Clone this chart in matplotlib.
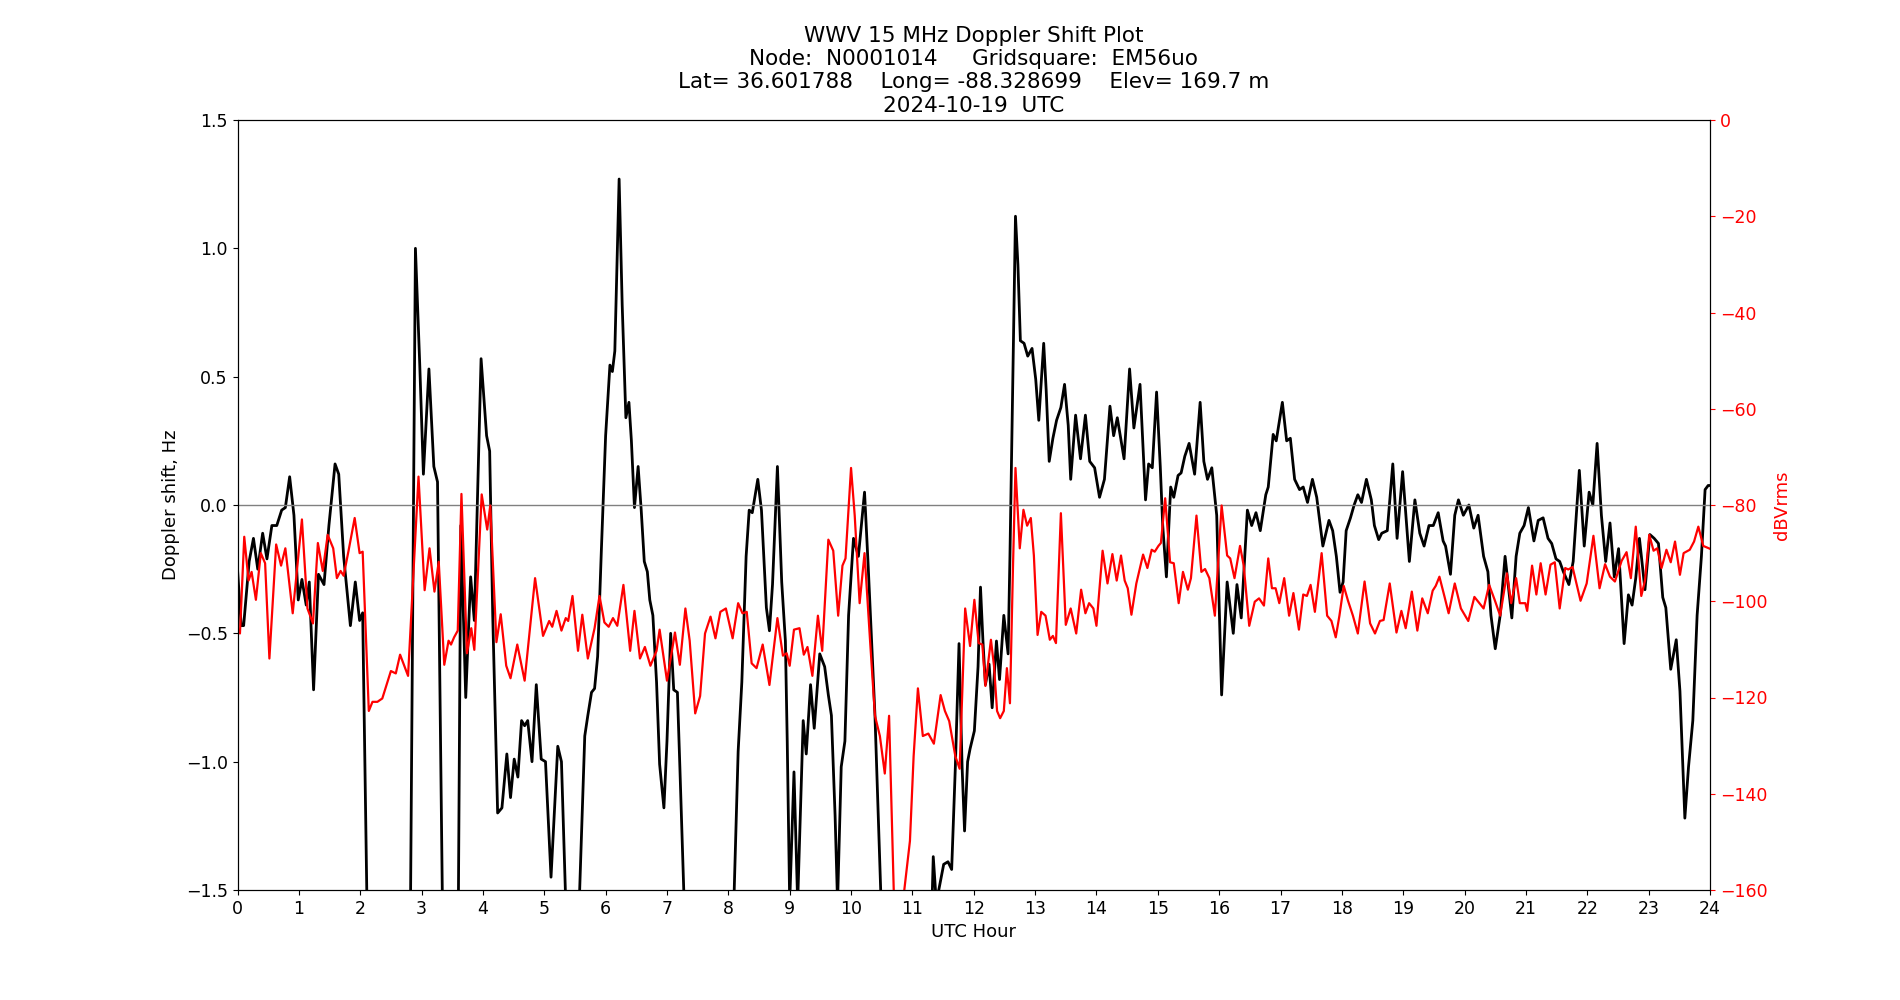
import matplotlib
matplotlib.use("Agg")
from matplotlib import pyplot as plt

# Doppler shift (Hz) vs UTC hour
hours_doppler = [
    0.00, 0.06, 0.10, 0.19, 0.26, 0.33, 0.41, 0.48, 0.56, 0.64, 0.72, 0.78, 0.85, 0.92, 0.99,
    1.05, 1.12, 1.17, 1.24, 1.32, 1.41, 1.49, 1.59, 1.65, 1.73, 1.84, 1.92, 1.99, 2.04, 2.11,
    2.50, 2.82, 2.90, 2.97, 3.03, 3.12, 3.20, 3.26, 3.34, 3.47, 3.60, 3.64, 3.72, 3.80, 3.86,
    3.97, 4.06, 4.11, 4.16, 4.24, 4.31, 4.39, 4.45, 4.51, 4.57, 4.63, 4.68, 4.73, 4.80, 4.87,
    4.95, 5.02, 5.11, 5.22, 5.28, 5.35, 5.46, 5.57, 5.66, 5.71, 5.77, 5.82, 5.87, 5.93, 6.00,
    6.07, 6.11, 6.15, 6.22, 6.27, 6.33, 6.38, 6.42, 6.47, 6.53, 6.58, 6.63, 6.68, 6.72, 6.77,
    6.83, 6.88, 6.95, 7.00, 7.06, 7.11, 7.17, 7.21, 7.28, 7.70, 8.09, 8.16, 8.22, 8.29, 8.34,
    8.39, 8.48, 8.54, 8.62, 8.67, 8.72, 8.80, 8.87, 8.93, 8.96, 9.00, 9.07, 9.13, 9.22, 9.27,
    9.34, 9.40, 9.49, 9.57, 9.63, 9.68, 9.74, 9.78, 9.84, 9.90, 9.96, 10.04, 10.12, 10.22, 10.28,
    10.39, 10.49, 10.90, 11.32, 11.34, 11.39, 11.51, 11.58, 11.64, 11.70, 11.76, 11.81, 11.85, 11.90, 11.94,
    12.01, 12.07, 12.11, 12.15, 12.19, 12.25, 12.30, 12.37, 12.42, 12.49, 12.56, 12.59, 12.64, 12.68, 12.72,
    12.76, 12.82, 12.88, 12.95, 13.01, 13.06, 13.14, 13.18, 13.23, 13.29, 13.35, 13.42, 13.48, 13.54, 13.58,
    13.66, 13.74, 13.82, 13.89, 13.97, 14.05, 14.13, 14.22, 14.28, 14.34, 14.45, 14.54, 14.61, 14.71, 14.80,
    14.85, 14.91, 14.98, 15.04, 15.08, 15.14, 15.21, 15.26, 15.33, 15.38, 15.44, 15.51, 15.60, 15.69, 15.75,
    15.81, 15.88, 15.96, 16.04, 16.13, 16.23, 16.29, 16.36, 16.46, 16.53, 16.60, 16.67, 16.76, 16.80, 16.88,
    16.93, 17.03, 17.10, 17.16, 17.23, 17.31, 17.37, 17.44, 17.52, 17.59, 17.69, 17.79, 17.85, 17.91, 17.97,
    18.02, 18.07, 18.14, 18.20, 18.26, 18.32, 18.40, 18.48, 18.53, 18.60, 18.65, 18.74, 18.83, 18.90, 18.99,
    19.10, 19.19, 19.27, 19.34, 19.42, 19.49, 19.57, 19.65, 19.69, 19.77, 19.84, 19.90, 19.98, 20.07, 20.15,
    20.22, 20.31, 20.38, 20.43, 20.50, 20.58, 20.66, 20.77, 20.84, 20.90, 20.97, 21.04, 21.13, 21.20, 21.28,
    21.36, 21.42, 21.49, 21.55, 21.61, 21.70, 21.77, 21.87, 21.95, 22.03, 22.09, 22.16, 22.23, 22.30, 22.37,
    22.44, 22.51, 22.60, 22.67, 22.73, 22.79, 22.85, 22.94, 23.02, 23.09, 23.16, 23.23, 23.28, 23.36, 23.45,
    23.51, 23.59, 23.65, 23.72, 23.79, 23.86, 23.92, 23.97, 24.00,
]
doppler_hz = [
    -0.25, -0.47, -0.47, -0.22, -0.13, -0.25, -0.11, -0.21, -0.08, -0.08, -0.02, -0.01, 0.11, -0.04, -0.37,
    -0.29, -0.39, -0.30, -0.72, -0.27, -0.31, -0.08, 0.16, 0.12, -0.20, -0.47, -0.30, -0.45, -0.42, -1.55,
    -2.00, -1.55, 1.00, 0.55, 0.12, 0.53, 0.15, 0.09, -1.55, -2.00, -1.55, -0.08, -0.75, -0.28, -0.45,
    0.57, 0.27, 0.21, -0.43, -1.20, -1.18, -0.97, -1.14, -0.99, -1.06, -0.84, -0.86, -0.84, -1.00, -0.70,
    -0.99, -1.00, -1.45, -0.94, -1.00, -1.55, -2.00, -1.55, -0.90, -0.82, -0.73, -0.715, -0.59, -0.18, 0.27,
    0.545, 0.52, 0.60, 1.27, 0.78, 0.34, 0.40, 0.25, -0.01, 0.15, -0.02, -0.22, -0.26, -0.37, -0.43,
    -0.69, -1.01, -1.18, -0.92, -0.50, -0.72, -0.73, -1.02, -1.55, -2.00, -1.55, -0.96, -0.69, -0.20, -0.02,
    -0.03, 0.10, -0.02, -0.40, -0.49, -0.31, 0.15, -0.30, -0.53, -0.92, -1.55, -1.04, -1.55, -0.84, -0.97,
    -0.70, -0.87, -0.58, -0.63, -0.74, -0.82, -1.21, -1.55, -1.02, -0.92, -0.43, -0.13, -0.20, 0.05, -0.24,
    -0.82, -1.55, -2.00, -1.55, -1.37, -1.55, -1.40, -1.39, -1.42, -1.02, -0.54, -1.02, -1.27, -1.00, -0.95,
    -0.88, -0.63, -0.32, -0.53, -0.70, -0.62, -0.79, -0.53, -0.68, -0.43, -0.58, -0.20, 0.545, 1.125, 0.935,
    0.64, 0.63, 0.58, 0.61, 0.49, 0.33, 0.63, 0.45, 0.17, 0.26, 0.33, 0.38, 0.47, 0.31, 0.10,
    0.35, 0.18, 0.35, 0.17, 0.145, 0.03, 0.10, 0.385, 0.27, 0.34, 0.18, 0.53, 0.30, 0.47, 0.02,
    0.16, 0.145, 0.44, 0.15, -0.08, -0.28, 0.07, 0.03, 0.115, 0.125, 0.19, 0.24, 0.12, 0.40, 0.17,
    0.10, 0.145, -0.04, -0.74, -0.30, -0.50, -0.31, -0.44, -0.02, -0.08, -0.03, -0.10, 0.04, 0.07, 0.275,
    0.25, 0.40, 0.25, 0.26, 0.10, 0.06, 0.07, 0.01, 0.10, 0.03, -0.16, -0.06, -0.10, -0.20, -0.34,
    -0.30, -0.10, -0.05, 0.00, 0.04, 0.01, 0.10, 0.02, -0.08, -0.135, -0.11, -0.10, 0.16, -0.13, 0.13,
    -0.22, 0.02, -0.11, -0.16, -0.08, -0.08, -0.03, -0.14, -0.16, -0.27, -0.04, 0.02, -0.04, 0.00, -0.09,
    -0.04, -0.20, -0.26, -0.43, -0.56, -0.43, -0.20, -0.44, -0.20, -0.11, -0.08, -0.01, -0.14, -0.06, -0.05,
    -0.13, -0.15, -0.21, -0.22, -0.26, -0.31, -0.22, 0.135, -0.16, 0.05, 0.00, 0.24, -0.04, -0.22, -0.07,
    -0.28, -0.17, -0.54, -0.35, -0.39, -0.285, -0.13, -0.33, -0.115, -0.13, -0.15, -0.36, -0.40, -0.64, -0.525,
    -0.725, -1.22, -1.02, -0.84, -0.43, -0.20, 0.06, 0.076, 0.076,
]

# Signal level (dBVrms) vs UTC hour
hours_power = [
    0.00, 0.04, 0.11, 0.18, 0.23, 0.30, 0.38, 0.45, 0.52, 0.63, 0.71, 0.78, 0.90, 1.05, 1.14,
    1.23, 1.31, 1.39, 1.47, 1.56, 1.62, 1.68, 1.73, 1.81, 1.91, 1.99, 2.04, 2.14, 2.20, 2.28,
    2.36, 2.50, 2.58, 2.65, 2.78, 2.95, 3.05, 3.13, 3.21, 3.28, 3.37, 3.44, 3.48, 3.53, 3.59,
    3.65, 3.74, 3.81, 3.86, 3.98, 4.07, 4.12, 4.22, 4.29, 4.38, 4.45, 4.56, 4.68, 4.85, 4.98,
    5.08, 5.13, 5.20, 5.28, 5.35, 5.39, 5.46, 5.55, 5.62, 5.71, 5.82, 5.90, 5.98, 6.05, 6.12,
    6.19, 6.29, 6.40, 6.47, 6.56, 6.64, 6.73, 6.83, 6.88, 7.00, 7.13, 7.21, 7.30, 7.37, 7.46,
    7.54, 7.62, 7.71, 7.79, 7.87, 7.96, 8.07, 8.16, 8.23, 8.30, 8.38, 8.46, 8.56, 8.67, 8.80,
    8.89, 8.95, 9.00, 9.07, 9.16, 9.23, 9.29, 9.37, 9.46, 9.53, 9.63, 9.71, 9.79, 9.86, 9.91,
    10.00, 10.06, 10.14, 10.22, 10.31, 10.39, 10.47, 10.55, 10.62, 10.70, 10.85, 10.96, 11.02, 11.09, 11.17,
    11.26, 11.35, 11.46, 11.53, 11.60, 11.70, 11.77, 11.81, 11.86, 11.94, 12.01, 12.08, 12.14, 12.19, 12.28,
    12.33, 12.38, 12.43, 12.49, 12.54, 12.59, 12.64, 12.68, 12.75, 12.81, 12.87, 12.93, 12.98, 13.04, 13.10,
    13.17, 13.24, 13.29, 13.34, 13.42, 13.50, 13.58, 13.67, 13.75, 13.82, 13.88, 13.95, 14.00, 14.10, 14.18,
    14.26, 14.33, 14.40, 14.46, 14.51, 14.57, 14.65, 14.76, 14.83, 14.90, 14.95, 15.01, 15.05, 15.12, 15.20,
    15.26, 15.34, 15.41, 15.49, 15.54, 15.63, 15.71, 15.77, 15.84, 15.93, 16.04, 16.13, 16.18, 16.25, 16.34,
    16.40, 16.49, 16.58, 16.65, 16.73, 16.80, 16.86, 16.92, 16.98, 17.06, 17.14, 17.21, 17.30, 17.37, 17.43,
    17.49, 17.56, 17.67, 17.76, 17.83, 17.90, 17.96, 18.03, 18.10, 18.18, 18.26, 18.37, 18.46, 18.54, 18.62,
    18.68, 18.78, 18.89, 18.97, 19.04, 19.14, 19.23, 19.31, 19.40, 19.48, 19.53, 19.59, 19.67, 19.74, 19.84,
    19.94, 20.06, 20.16, 20.31, 20.40, 20.49, 20.58, 20.69, 20.76, 20.84, 20.90, 20.99, 21.02, 21.10, 21.17,
    21.24, 21.32, 21.40, 21.47, 21.55, 21.64, 21.69, 21.76, 21.89, 21.99, 22.10, 22.20, 22.29, 22.37, 22.45,
    22.56, 22.64, 22.71, 22.79, 22.88, 22.94, 23.01, 23.08, 23.14, 23.21, 23.29, 23.36, 23.43, 23.51, 23.57,
    23.67, 23.74, 23.81, 23.89, 24.00,
]
power_db = [
    -105.6, -106.7, -86.6, -95.7, -93.9, -99.7, -90.0, -92.1, -111.9, -88.2, -92.6, -89.0, -102.5, -83.0, -101.5,
    -104.6, -87.9, -93.7, -86.2, -89.0, -95.2, -93.7, -94.7, -89.5, -82.7, -90.0, -89.7, -122.8, -120.9, -120.9,
    -120.2, -114.5, -115.0, -111.1, -115.5, -74.1, -97.7, -89.0, -98.0, -91.8, -113.2, -108.2, -109.0, -107.5, -106.1,
    -77.7, -110.8, -105.6, -110.1, -77.8, -85.1, -80.1, -108.5, -102.7, -113.4, -116.0, -109.0, -116.5, -95.2, -107.2,
    -104.1, -105.3, -102.0, -106.1, -103.5, -104.1, -98.9, -110.3, -102.8, -111.9, -105.6, -98.9, -104.4, -105.3, -103.5,
    -105.1, -96.6, -110.3, -102.0, -111.9, -109.5, -113.4, -110.3, -105.9, -116.5, -106.5, -113.2, -101.5, -108.2, -123.3,
    -119.7, -106.7, -103.2, -107.7, -102.2, -101.5, -107.7, -100.4, -102.5, -102.2, -112.9, -113.9, -109.0, -117.4, -103.5,
    -111.3, -110.8, -113.4, -105.9, -105.6, -111.1, -109.5, -115.5, -103.0, -110.3, -87.2, -89.5, -103.0, -92.6, -91.1,
    -72.3, -82.2, -100.4, -90.0, -108.2, -123.8, -128.0, -135.8, -123.8, -162.0, -162.0, -149.8, -132.2, -118.1, -128.0,
    -127.5, -129.6, -119.5, -122.8, -124.9, -132.2, -134.8, -119.7, -101.5, -109.3, -99.7, -108.7, -109.0, -117.6, -108.0,
    -113.4, -122.8, -124.3, -122.8, -113.9, -121.2, -92.6, -72.3, -89.0, -81.0, -84.3, -82.7, -90.5, -107.0, -102.2,
    -103.0, -108.0, -107.2, -108.7, -81.7, -104.9, -101.5, -106.7, -97.6, -102.5, -100.4, -101.5, -105.1, -89.5, -96.3,
    -90.2, -95.7, -90.5, -95.7, -97.3, -102.8, -96.3, -90.3, -93.1, -89.3, -89.7, -88.5, -87.9, -78.6, -91.9,
    -92.1, -100.4, -93.9, -97.6, -95.2, -82.2, -93.9, -93.3, -95.2, -103.0, -80.1, -90.5, -91.1, -95.2, -88.5,
    -92.6, -105.1, -100.1, -99.4, -100.9, -91.1, -97.3, -97.3, -100.4, -95.2, -103.0, -98.3, -105.9, -98.6, -98.9,
    -96.6, -102.2, -90.0, -103.0, -104.1, -107.5, -103.0, -96.8, -99.9, -103.0, -106.7, -95.9, -104.6, -106.7, -104.1,
    -103.9, -96.3, -106.5, -102.0, -105.6, -98.0, -106.1, -99.4, -102.5, -97.8, -96.8, -94.9, -98.9, -102.5, -96.3,
    -101.5, -104.1, -99.1, -101.5, -96.6, -99.7, -103.0, -94.2, -100.4, -95.2, -100.4, -100.4, -102.0, -92.6, -98.6,
    -92.1, -98.6, -92.4, -91.9, -101.5, -93.1, -93.4, -92.9, -99.9, -96.3, -86.4, -97.3, -92.3, -94.9, -95.9,
    -91.6, -89.8, -95.2, -84.5, -98.9, -95.7, -86.2, -89.5, -89.0, -93.1, -89.3, -91.9, -87.6, -94.5, -90.0,
    -89.3, -87.6, -84.5, -88.5, -89.1,
]

title_lines = [
    'WWV 15 MHz Doppler Shift Plot',
    'Node:  N0001014     Gridsquare:  EM56uo',
    'Lat= 36.601788    Long= -88.328699    Elev= 169.7 m',
    '2024-10-19  UTC',
]

fig, ax = plt.subplots(figsize=(19, 10), dpi=100)

# Doppler shift (left axis)
ax.plot(hours_doppler, doppler_hz, color='black', linewidth=2)
ax.axhline(0, color='gray', linewidth=1)
ax.set_xlim(0, 24)
ax.set_ylim(-1.5, 1.5)
ax.set_xticks(range(0, 25))
ax.set_xlabel('UTC Hour', fontsize=13)
ax.set_ylabel('Doppler shift, Hz', fontsize=13)
ax.tick_params(labelsize=12.5)
ax.set_title('\n'.join(title_lines), fontsize=15.5)

# Power level (right axis)
ax2 = ax.twinx()
ax2.plot(hours_power, power_db, color='red', linewidth=1.6)
ax2.set_ylim(-160, 0)
ax2.set_ylabel('dBVrms', color='red', fontsize=13)
ax2.tick_params(axis='y', colors='red', labelsize=12.5)

fig.savefig('out.png', dpi=100)
plt.close(fig)
